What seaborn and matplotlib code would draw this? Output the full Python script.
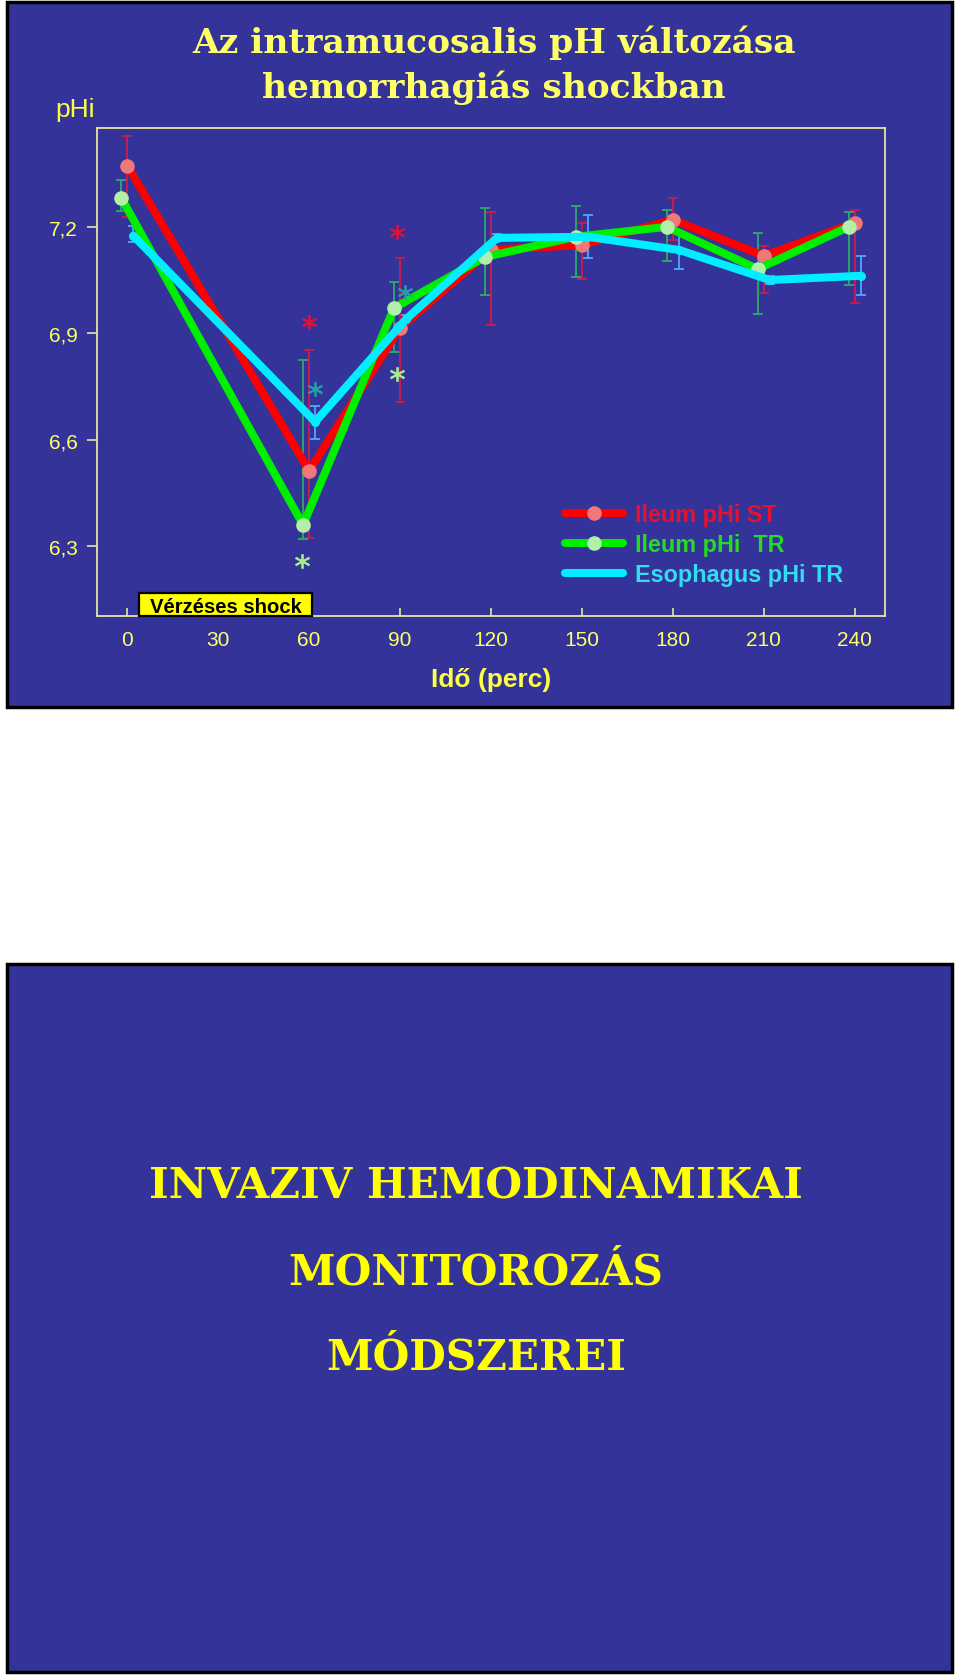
import matplotlib
matplotlib.use("Agg")
import matplotlib.pyplot as plt
from matplotlib.patches import Rectangle
from matplotlib.lines import Line2D
import matplotlib.transforms as mtransforms
from matplotlib.ticker import FuncFormatter
import pandas as pd
import seaborn as sns

# ---- data ----
time_min = [0, 60, 90, 120, 150, 180, 210, 240]

ileum_st = [7.372, 6.512, 6.915, 7.135, 7.149, 7.220, 7.118, 7.211]
ileum_st_hi = [7.457, 6.853, 7.113, 7.242, 7.211, 7.282, 7.146, 7.248]
ileum_st_lo = [7.228, 6.322, 6.706, 6.923, 7.053, 7.163, 7.014, 6.986]

ileum_tr = [7.282, 6.359, 6.971, 7.115, 7.172, 7.200, 7.081, 7.200]
ileum_tr_hi = [7.333, 6.825, 7.045, 7.254, 7.259, 7.248, 7.183, 7.242]
ileum_tr_lo = [7.245, 6.320, 6.847, 7.008, 7.059, 7.104, 6.955, 7.036]

esoph_tr = [7.175, 6.650, 6.940, 7.169, 7.172, 7.135, 7.050, 7.062]
esoph_tr_hi = [7.203, 6.695, 6.950, 7.180, 7.234, 7.180, 7.060, 7.118]
esoph_tr_lo = [7.158, 6.602, 6.930, 7.160, 7.113, 7.082, 7.040, 7.008]

# significance asterisks (x, y)
star_red = ([60, 89], [6.932, 7.186])
star_teal = ([62, 91.5], [6.743, 7.017])
star_green = ([57.5, 89], [6.258, 6.785])

y_ticks = [6.3, 6.6, 6.9, 7.2]
x_ticks = [0, 30, 60, 90, 120, 150, 180, 210, 240]

labels = ["Ileum pHi ST", "Ileum pHi  TR", "Esophagus pHi TR"]

BG = "#333399"
W, H = 960, 1681

sns.set_style("ticks")
plt.rcParams["font.family"] = ["Liberation Sans", "DejaVu Sans"]

fig = plt.figure(figsize=(W / 100, H / 100), dpi=100)
fig.patch.set_facecolor("white")


def fx(px):
    return px / W


def fy(px):
    return 1 - px / H


# two slide panels
for top, bot in [(3, 708), (965, 1673)]:
    fig.add_artist(Rectangle((fx(7), fy(bot)), fx(952) - fx(7), fy(top) - fy(bot),
                             transform=fig.transFigure, facecolor=BG,
                             edgecolor="black", lw=2.5, zorder=-1))

ax = fig.add_axes([fx(97), fy(617), fx(885) - fx(97), fy(129) - fy(617)])
ax.set_facecolor(BG)

series = [
    (ileum_st, ileum_st_lo, ileum_st_hi, 0, "#ff0000", "#f07878", 10.5, "#cc1c48"),
    (ileum_tr, ileum_tr_lo, ileum_tr_hi, -2, "#00ee00", "#b0f0a8", 10.5, "#2eaa66"),
    (esoph_tr, esoph_tr_lo, esoph_tr_hi, 2, "#00eeff", "#00eeff", 6.5, "#4ea8ff"),
]

handles = []
for (vals, lo, hi, dodge, lc, mc, ms, ec), lab in zip(series, labels):
    df = pd.DataFrame({"t": [t + dodge for t in time_min], "ph": vals})
    ax.errorbar(df["t"], df["ph"],
                yerr=[[v - l for v, l in zip(vals, lo)], [h - v for v, h in zip(vals, hi)]],
                fmt="none", ecolor=ec, elinewidth=1.3, capsize=3.5, capthick=1.3, zorder=2)
    sns.lineplot(data=df, x="t", y="ph", ax=ax, color=lc, lw=5.8, marker="o",
                 markersize=ms, markerfacecolor=mc, markeredgewidth=0,
                 sort=False, zorder=3, legend=False)
    handles.append(Line2D([], [], color=lc, lw=5.8, marker="o",
                          markersize=ms if ms > 7 else 4.5, markerfacecolor=mc,
                          markeredgewidth=0))

for (sx, sy), c in [(star_red, "#e0103c"), (star_teal, "#2a9aaa"), (star_green, "#a8ee90")]:
    ax.scatter(sx, sy, marker=r"$\mathbf{*}$", s=120, color=c, linewidths=0, zorder=4)

ax.set_xlim(-10, 250)
ax.set_ylim(6.102, 7.479)
ax.set_xticks(x_ticks)
ax.set_yticks(y_ticks)
ax.yaxis.set_major_formatter(FuncFormatter(lambda v, p: f"{v:.1f}".replace(".", ",")))

frame_c = "#e6e6a0"
for s in ax.spines.values():
    s.set_visible(True)
    s.set_color(frame_c)
    s.set_linewidth(1.3)
ax.tick_params(axis="x", direction="in", length=6, width=1.2, color=frame_c,
               labelcolor="#ffff66", labelsize=15, pad=10)
ax.tick_params(axis="y", direction="out", length=7, width=1.2, color=frame_c,
               labelcolor="#ffff66", labelsize=15, pad=7)
ax.set_xlabel("Idő (perc)", color="#ffff44", fontsize=19, fontweight="bold", labelpad=13)
ax.set_ylabel("")

# shock period box on the x axis
trans = mtransforms.blended_transform_factory(ax.transData, ax.transAxes)
ax.add_patch(Rectangle((4, 0), 57, 0.047, transform=trans, facecolor="#ffff00",
                       edgecolor="black", lw=1.6, zorder=5, clip_on=False))
ax.text(32.5, 0.019, "Vérzéses shock", transform=trans, ha="center", va="center",
        fontsize=14.6, fontweight="bold", color="black", zorder=6)

leg = ax.legend(handles, labels, loc="upper left", bbox_to_anchor=(0.594, 0.232),
                frameon=False, handlelength=2.5, handletextpad=0.5,
                labelspacing=0.3, borderpad=0, borderaxespad=0,
                labelcolor=["#e8102a", "#22dd22", "#33ddee"],
                prop={"weight": "bold", "size": 16.8})

# slide texts
fig.text(fx(494), fy(53), "Az intramucosalis pH változása", ha="center", va="baseline",
         color="#ffff66", fontsize=24.8, fontweight="bold", family="DejaVu Serif")
fig.text(fx(494), fy(98), "hemorrhagiás shockban", ha="center", va="baseline",
         color="#ffff66", fontsize=24.8, fontweight="bold", family="DejaVu Serif")
fig.text(fx(55), fy(117), "pHi", ha="left", va="baseline", color="#ffff44", fontsize=19)

for txt, base in [("INVAZIV HEMODINAMIKAI", 1199), ("MONITOROZÁS", 1285), ("MÓDSZEREI", 1370)]:
    fig.text(fx(476), fy(base), txt, ha="center", va="baseline", color="#ffff00",
             fontsize=30.3, fontweight="bold", family="DejaVu Serif")

fig.savefig("out.png", dpi=100)
